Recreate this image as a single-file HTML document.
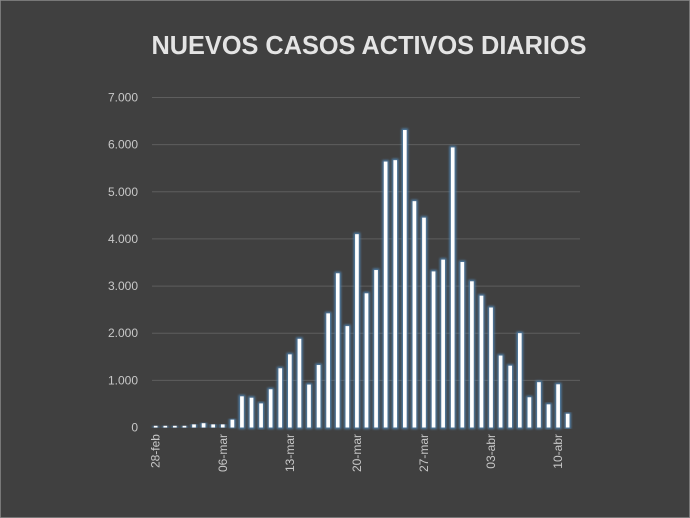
<!DOCTYPE html>
<html><head><meta charset="utf-8"><style>
html,body{margin:0;padding:0;background:#404040;}
svg{display:block;font-family:"Liberation Sans",sans-serif;}
</style></head><body>
<svg id="chart" width="690" height="518" viewBox="0 0 690 518">
<defs>
<filter id="glow" x="-100%" y="-10%" width="300%" height="120%">
<feMorphology in="SourceAlpha" operator="dilate" radius="1.5" result="d"/>
<feGaussianBlur in="d" stdDeviation="1" result="b"/>
<feFlood flood-color="#4f7fa8"/>
<feComposite in2="b" operator="in" result="g"/>
<feMerge><feMergeNode in="g"/><feMergeNode in="SourceGraphic"/></feMerge>
</filter>
</defs>
<rect x="0" y="0" width="690" height="518" fill="#404040" stroke="#8a8a8a" stroke-width="1.5"/>
<text x="369" y="54" text-anchor="middle" font-size="26" font-weight="bold" fill="#e4e4e4" textLength="435" lengthAdjust="spacingAndGlyphs">NUEVOS CASOS ACTIVOS DIARIOS</text>
<g id="grid"></g><g id="ylabels"></g><g id="bars"></g><g id="xlabels"></g>
</svg>
<script>
const categories = ["28-feb","29-feb","01-mar","02-mar","03-mar","04-mar","05-mar","06-mar","07-mar","08-mar","09-mar","10-mar","11-mar","12-mar","13-mar","14-mar","15-mar","16-mar","17-mar","18-mar","19-mar","20-mar","21-mar","22-mar","23-mar","24-mar","25-mar","26-mar","27-mar","28-mar","29-mar","30-mar","31-mar","01-abr","02-abr","03-abr","04-abr","05-abr","06-abr","07-abr","08-abr","09-abr","10-abr","11-abr"];
const values = [35,35,35,35,65,90,65,65,165,660,630,510,810,1255,1550,1880,910,1325,2420,3270,2150,4100,2845,3340,5640,5670,6310,4800,4450,3310,3560,5940,3510,3100,2795,2545,1525,1310,2000,640,960,490,915,290];
const yTicks = [0,1000,2000,3000,4000,5000,6000,7000];
const yTickLabels = ["0","1.000","2.000","3.000","4.000","5.000","6.000","7.000"];
const xLabelIdx = [0,7,14,21,28,35,42];

const NS="http://www.w3.org/2000/svg";
const y0=427.5, yTop=97.5, yMax=7000;
const x0=155.7, step=(567.7-155.7)/43;
function yScale(v){return y0-(v/yMax)*(y0-yTop);}
function xScale(i){return x0+i*step;}
function mk(tag,attrs,parent){const e=document.createElementNS(NS,tag);for(const k in attrs)e.setAttribute(k,attrs[k]);parent.appendChild(e);return e;}
const grid=document.getElementById('grid'),yl=document.getElementById('ylabels'),bars=document.getElementById('bars'),xl=document.getElementById('xlabels');
yTicks.forEach((t,i)=>{
  if(t>0){const l=mk('line',{x1:152,x2:580,y1:yScale(t),y2:yScale(t),stroke:'#5e5e5e','stroke-width':1},grid);
  
  }
  const tx=mk('text',{x:138,y:yScale(t)+4,'text-anchor':'end','font-size':12,fill:'#c8c8c8'},yl);
  tx.textContent=yTickLabels[i];
  
  
});
values.forEach((v,i)=>{
  const r=mk('rect',{x:xScale(i)-1.8,y:yScale(v),width:3.6,height:Math.max(0.5,y0-yScale(v)),fill:'#ffffff',filter:'url(#glow)'},bars);
  
  
});
xLabelIdx.forEach(i=>{
  const x=xScale(i)+4,y=434;
  const tx=mk('text',{x:x,y:y,transform:`rotate(-90 ${x} ${y})`,'text-anchor':'end','font-size':12,fill:'#c8c8c8'},xl);
  tx.textContent=categories[i];
  
  
});
</script>
</body></html>
